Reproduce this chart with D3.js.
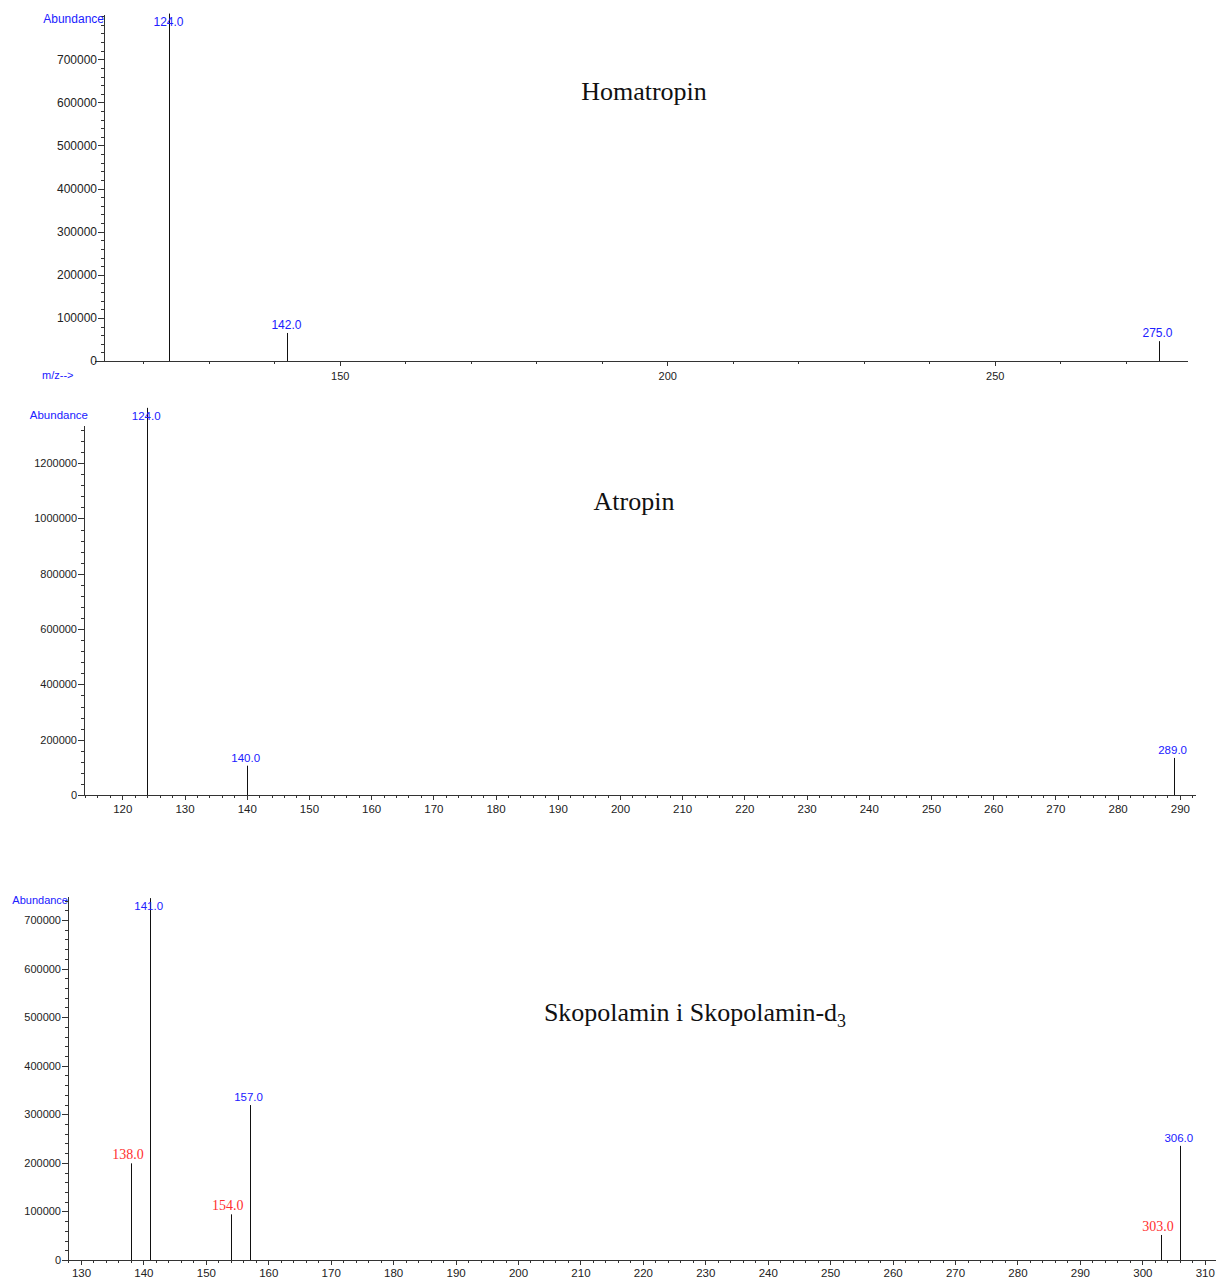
<!DOCTYPE html>
<html>
<head>
<meta charset="utf-8">
<script src="https://cdn.jsdelivr.net/npm/d3@7"></script>
<style>
  html, body { margin: 0; padding: 0; background: #fff; }
  svg { display: block; }
  .tick text { font-family: "Liberation Sans", Arial, sans-serif; fill: #222; }
  .domain, .tick line { stroke: #333; shape-rendering: crispEdges; }
</style>
</head>
<body>
<svg id="chart" width="1217" height="1279"></svg>
<script>
// ---- Homatropin spectrum ----
const homMz = [124, 142, 275];
const homAbundance = [806000, 65000, 46000];
const homXTicks = [150, 200, 250];
const homYTicks = [0, 100000, 200000, 300000, 400000, 500000, 600000, 700000];

// ---- Atropin spectrum ----
const atrMz = [124, 140, 289];
const atrAbundance = [1400000, 106000, 134000];
const atrXTicks = [120, 130, 140, 150, 160, 170, 180, 190, 200, 210, 220, 230, 240, 250, 260, 270, 280, 290];
const atrYTicks = [0, 200000, 400000, 600000, 800000, 1000000, 1200000];

// ---- Skopolamin / Skopolamin-d3 spectrum ----
const scoMz = [138, 141, 154, 157, 303, 306];
const scoAbundance = [199000, 745000, 94000, 319000, 51500, 235000];
const scoSeries = ["d0", "d3", "d0", "d3", "d0", "d3"];
const scoXTicks = [130, 140, 150, 160, 170, 180, 190, 200, 210, 220, 230, 240, 250, 260, 270, 280, 290, 300, 310];
const scoYTicks = [0, 100000, 200000, 300000, 400000, 500000, 600000, 700000];

const svg = d3.select("#chart");
const BLUE = "#2020ff";
const RED = "#ff3030";

function drawPanel(p) {
  const g = svg.append("g");
  const x = d3.scaleLinear().domain(p.xDomain).range([p.left, p.right]);
  const y = d3.scaleLinear().domain(p.yDomain).range([p.base, p.top]);

  // x axis: minor ticks (no labels), then labelled major ticks
  const xMinor = d3.range(Math.ceil(p.xDomain[0] / p.xMinorStep) * p.xMinorStep, p.xDomain[1], p.xMinorStep);
  g.append("g").attr("transform", `translate(0,${p.base})`)
    .call(d3.axisBottom(x).tickValues(xMinor).tickSize(3).tickFormat(""))
    .call(a => a.select(".domain").remove());
  const xa = g.append("g").attr("transform", `translate(0,${p.base})`)
    .call(d3.axisBottom(x).tickValues(p.xTicks).tickSize(5).tickSizeOuter(0).tickPadding(p.xPad).tickFormat(d3.format("d")));
  xa.selectAll("text").style("font-size", p.xFont + "px");
  xa.select(".domain").attr("d", `M${p.baseStart},0.5H${p.right}`);

  // y axis
  const yMinor = d3.range(0, p.yDomain[1], p.yMinorStep);
  g.append("g").attr("transform", `translate(${p.left},0)`)
    .call(d3.axisLeft(y).tickValues(yMinor).tickSize(3).tickFormat(""))
    .call(a => a.select(".domain").remove());
  const ya = g.append("g").attr("transform", `translate(${p.left},0)`)
    .call(d3.axisLeft(y).tickValues(p.yTicks).tickSize(6).tickSizeOuter(0).tickPadding(1).tickFormat(d3.format("d")));
  ya.selectAll("text").style("font-size", p.yFont + "px");

  // peaks as sticks
  const data = p.mz.map((m, i) => ({ mz: m, v: p.ab[i], s: p.series ? p.series[i] : "d3" }));
  g.selectAll("line.peak").data(data).join("line")
    .attr("class", "peak")
    .attr("x1", d => Math.round(x(d.mz)) + 0.5).attr("x2", d => Math.round(x(d.mz)) + 0.5)
    .attr("y1", p.base).attr("y2", d => y(d.v))
    .attr("stroke", "#111").attr("stroke-width", 1);

  // peak labels
  g.selectAll("text.peak").data(data).join("text")
    .attr("class", "peak")
    .attr("x", d => x(d.mz) + (d.s === "d0" ? -3 : -1))
    .attr("y", d => d.v > p.yDomain[1] * 0.95 ? y(d.v) + 12 : y(d.v) - 4)
    .attr("text-anchor", "middle")
    .style("font-family", d => d.s === "d0" ? "'Liberation Serif', 'Times New Roman', serif" : "'Liberation Sans', Arial, sans-serif")
    .style("font-size", d => (d.s === "d0" ? 14 : p.labelFont) + "px")
    .attr("fill", d => d.s === "d0" ? RED : BLUE)
    .text(d => d.mz.toFixed(1));

  // "Abundance" caption at the top of the y axis
  g.append("text")
    .attr("x", p.abX).attr("y", p.abY)
    .attr("text-anchor", "end")
    .style("font-family", "'Liberation Sans', Arial, sans-serif")
    .style("font-size", p.abFont + "px")
    .attr("fill", BLUE)
    .text("Abundance");

  // compound name
  const t = g.append("text")
    .attr("x", p.titleX).attr("y", p.titleY)
    .attr("text-anchor", "middle")
    .style("font-family", "'Liberation Serif', 'Times New Roman', serif")
    .style("font-size", "26px")
    .attr("fill", "#111");
  t.append("tspan").text(p.title);
  if (p.titleSub) {
    t.append("tspan").attr("dy", 6).style("font-size", "18px").text(p.titleSub);
  }
  return g;
}

const homPanel = drawPanel({
  mz: homMz, ab: homAbundance, xTicks: homXTicks, yTicks: homYTicks,
  xDomain: [114, 279.5], yDomain: [0, 805000], xMinorStep: 10, yMinorStep: 20000,
  left: 104, right: 1188, base: 361, top: 14, baseStart: 95,
  xFont: 11, xPad: 6, yFont: 12, labelFont: 12, abFont: 12, abX: 104, abY: 23,
  title: "Homatropin", titleX: 644, titleY: 100
});
homPanel.append("text")
  .attr("x", 42).attr("y", 379)
  .style("font-family", "'Liberation Sans', Arial, sans-serif")
  .style("font-size", "11px")
  .attr("fill", BLUE)
  .text("m/z-->");

drawPanel({
  mz: atrMz, ab: atrAbundance, xTicks: atrXTicks, yTicks: atrYTicks,
  xDomain: [113.84, 292.6], yDomain: [0, 1338000], xMinorStep: 2, yMinorStep: 40000,
  left: 84, right: 1196, base: 795, top: 425, baseStart: 84,
  xFont: 11.5, xPad: 5, yFont: 11, labelFont: 11.5, abFont: 11.5, abX: 88, abY: 419,
  title: "Atropin", titleX: 634, titleY: 510
});

drawPanel({
  mz: scoMz, ab: scoAbundance, series: scoSeries, xTicks: scoXTicks, yTicks: scoYTicks,
  xDomain: [127.92, 311.8], yDomain: [0, 749400], xMinorStep: 2, yMinorStep: 20000,
  left: 68, right: 1216, base: 1260, top: 896, baseStart: 68,
  xFont: 11.5, xPad: 4, yFont: 11, labelFont: 11.5, abFont: 11, abX: 68, abY: 904,
  title: "Skopolamin i Skopolamin-d", titleSub: "3", titleX: 695, titleY: 1021
});
</script>
</body>
</html>
